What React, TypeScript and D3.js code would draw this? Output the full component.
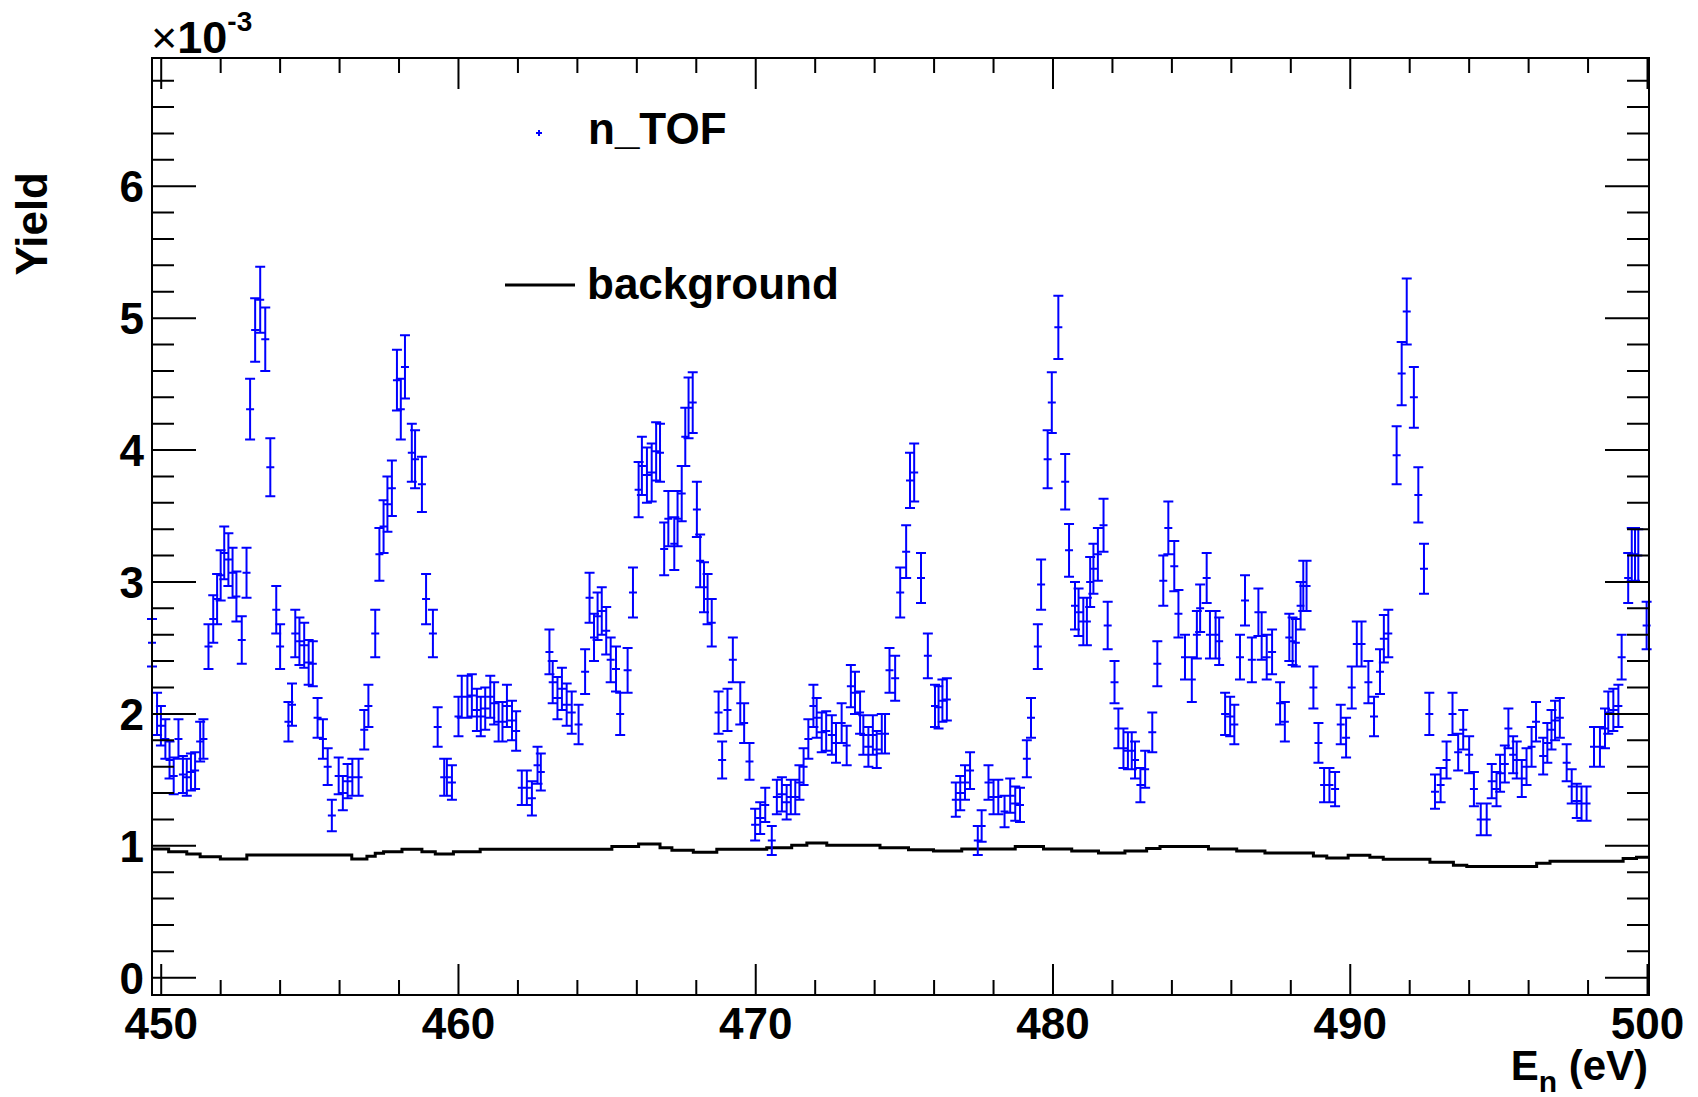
import React from "react";
import * as d3 from "d3";

const svgWidth = 1698;
const svgHeight = 1097;
const frame = { left: 152, right: 1649, top: 58, bottom: 995 };
const font = "'Liberation Sans', Arial, Helvetica, sans-serif";
const capHalf = 5;
const markHalf = 4;

// axis ranges (yield in units of 1e-3)
const xDomain = [449.69, 500.05];
const yDomain = [-0.131, 6.972];
const xTickLabels = [450, 460, 470, 480, 490, 500];
const yTickLabels = [0, 1, 2, 3, 4, 5, 6];

// n_TOF capture yield
const nTofEnergy = [
  449.69, 449.86, 449.99, 450.14, 450.28, 450.42, 450.58, 450.73, 450.86, 451.0,
  451.14, 451.31, 451.42, 451.59, 451.75, 451.88, 452.0, 452.12, 452.26, 452.4,
  452.53, 452.71, 452.87, 452.99, 453.16, 453.33, 453.5, 453.67, 453.87, 454.0,
  454.28, 454.4, 454.51, 454.65, 454.81, 454.96, 455.1, 455.26, 455.44, 455.6,
  455.74, 455.97, 456.11, 456.27, 456.43, 456.64, 456.83, 456.97, 457.2, 457.34,
  457.48, 457.61, 457.76, 457.93, 458.06, 458.2, 458.43, 458.54, 458.77, 458.91,
  459.14, 459.3, 459.52, 459.61, 459.78, 460.0, 460.11, 460.3, 460.45, 460.62,
  460.75, 460.9, 461.07, 461.2, 461.35, 461.48, 461.63, 461.8, 461.94, 462.13,
  462.3, 462.47, 462.66, 462.77, 463.06, 463.17, 463.33, 463.48, 463.64, 463.81,
  464.04, 464.26, 464.41, 464.56, 464.68, 464.82, 464.97, 465.12, 465.3, 465.44,
  465.69, 465.87, 466.06, 466.17, 466.34, 466.5, 466.65, 466.78, 466.92, 467.06,
  467.26, 467.37, 467.51, 467.63, 467.74, 467.88, 468.02, 468.13, 468.26, 468.38,
  468.52, 468.75, 468.87, 469.05, 469.23, 469.48, 469.61, 469.79, 469.98, 470.15,
  470.32, 470.54, 470.71, 470.88, 471.04, 471.18, 471.33, 471.47, 471.61, 471.77,
  471.94, 472.05, 472.22, 472.37, 472.56, 472.7, 472.89, 473.06, 473.2, 473.34,
  473.51, 473.62, 473.79, 473.94, 474.07, 474.24, 474.35, 474.5, 474.69, 474.86,
  475.06, 475.19, 475.33, 475.56, 475.79, 476.03, 476.15, 476.28, 476.43, 476.73,
  476.88, 477.04, 477.21, 477.47, 477.6, 477.83, 478.0, 478.16, 478.37, 478.56,
  478.73, 478.89, 479.12, 479.26, 479.49, 479.6, 479.82, 479.96, 480.18, 480.41,
  480.54, 480.74, 480.86, 481.02, 481.14, 481.25, 481.36, 481.51, 481.7, 481.84,
  482.07, 482.2, 482.37, 482.52, 482.65, 482.76, 482.94, 483.1, 483.34, 483.51,
  483.71, 483.88, 484.08, 484.22, 484.44, 484.67, 484.84, 484.95, 485.17, 485.28,
  485.47, 485.59, 485.79, 485.96, 486.1, 486.29, 486.46, 486.69, 486.91, 487.02,
  487.19, 487.37, 487.64, 487.8, 487.95, 488.06, 488.17, 488.33, 488.42, 488.53,
  488.76, 488.93, 489.12, 489.3, 489.49, 489.68, 489.86, 490.05, 490.22, 490.38,
  490.61, 490.8, 491.0, 491.13, 491.28, 491.56, 491.73, 491.9, 492.14, 492.29,
  492.48, 492.66, 492.85, 493.04, 493.24, 493.44, 493.63, 493.8, 494.0, 494.16,
  494.39, 494.59, 494.76, 494.92, 495.04, 495.2, 495.32, 495.48, 495.6, 495.77,
  495.93, 496.1, 496.25, 496.49, 496.63, 496.77, 496.89, 497.05, 497.28, 497.45,
  497.62, 497.78, 497.95, 498.2, 498.4, 498.57, 498.68, 498.85, 499.02, 499.13,
  499.35, 499.47, 499.58, 499.69, 499.97,
];
const nTofYield = [
  2.54, 2.0, 1.91, 1.81, 1.65, 1.53, 1.81, 1.54, 1.52, 1.56,
  1.57, 1.79, 1.81, 2.51, 2.72, 2.87, 3.05, 3.22, 3.17, 3.07,
  2.89, 2.56, 3.07, 4.31, 4.91, 5.14, 4.84, 3.87, 2.79, 2.51,
  1.94, 2.07, 2.61, 2.55, 2.52, 2.39, 2.38, 1.97, 1.81, 1.6,
  1.23, 1.53, 1.4, 1.49, 1.52, 1.52, 1.88, 2.06, 2.61, 3.21,
  3.42, 3.59, 3.71, 4.53, 4.31, 4.63, 3.98, 3.93, 3.74, 2.87,
  2.61, 1.9, 1.52, 1.52, 1.48, 1.98, 2.13, 2.13, 2.14, 2.03,
  1.98, 2.04, 2.13, 2.08, 1.94, 1.94, 2.06, 1.95, 1.87, 1.44,
  1.44, 1.36, 1.61, 1.56, 2.47, 2.24, 2.12, 2.19, 2.07, 2.01,
  1.92, 2.32, 2.88, 2.58, 2.74, 2.78, 2.63, 2.41, 2.34, 2.0,
  2.33, 2.92, 3.7, 3.88, 3.81, 3.83, 3.99, 3.98, 3.25, 3.48,
  3.29, 3.48, 3.67, 4.1, 4.32, 4.36, 3.55, 3.16, 2.96, 2.87,
  2.69, 2.01, 1.65, 2.03, 2.41, 2.08, 1.93, 1.64, 1.16, 1.21,
  1.31, 1.04, 1.37, 1.39, 1.33, 1.37, 1.37, 1.48, 1.6, 1.81,
  2.06, 1.97, 1.86, 1.87, 1.84, 1.78, 1.93, 1.76, 2.21, 2.16,
  2.01, 1.84, 1.75, 1.84, 1.73, 1.85, 1.85, 2.33, 2.27, 2.92,
  3.23, 3.77, 3.83, 3.03, 2.44, 2.06, 2.05, 2.1, 2.11, 1.35,
  1.4, 1.48, 1.57, 1.04, 1.15, 1.48, 1.37, 1.37, 1.26, 1.38,
  1.32, 1.31, 1.66, 1.97, 2.51, 2.98, 3.93, 4.36, 4.93, 3.76,
  3.24, 2.82, 2.77, 2.7, 2.7, 3.0, 3.1, 3.21, 3.43, 2.67,
  2.24, 1.89, 1.74, 1.72, 1.72, 1.65, 1.46, 1.58, 1.86, 2.38,
  3.01, 3.41, 3.12, 2.76, 2.43, 2.26, 2.6, 2.8, 3.03, 2.6,
  2.6, 2.55, 2.0, 1.98, 1.92, 2.43, 2.86, 2.41, 2.77, 2.59,
  2.43, 2.47, 2.08, 1.94, 2.58, 2.55, 2.54, 2.82, 2.97, 2.97,
  2.2, 1.78, 1.46, 1.46, 1.43, 1.92, 1.82, 2.2, 2.53, 2.53,
  2.24, 1.98, 2.32, 2.57, 2.61, 3.96, 4.58, 5.05, 4.4, 3.66,
  3.1, 2.0, 1.41, 1.46, 1.65, 2.0, 1.71, 1.88, 1.69, 1.43,
  1.2, 1.2, 1.49, 1.43, 1.55, 1.62, 1.89, 1.69, 1.65, 1.51,
  1.6, 1.75, 1.94, 1.68, 1.78, 1.88, 1.95, 1.97, 1.63, 1.45,
  1.34, 1.32, 1.32, 1.75, 1.75, 1.89, 2.01, 2.03, 2.06, 2.43,
  3.03, 3.21, 3.21, 3.2, 2.67,
];
const nTofError = [
  0.18, 0.16, 0.15, 0.15, 0.14, 0.14, 0.15, 0.14, 0.14, 0.14,
  0.14, 0.15, 0.15, 0.17, 0.18, 0.19, 0.19, 0.2, 0.2, 0.19,
  0.19, 0.18, 0.19, 0.23, 0.24, 0.25, 0.24, 0.22, 0.18, 0.17,
  0.15, 0.16, 0.18, 0.18, 0.17, 0.17, 0.17, 0.15, 0.15, 0.14,
  0.12, 0.14, 0.13, 0.13, 0.14, 0.14, 0.15, 0.16, 0.18, 0.2,
  0.2, 0.21, 0.21, 0.23, 0.23, 0.24, 0.22, 0.22, 0.21, 0.19,
  0.18, 0.15, 0.14, 0.14, 0.13, 0.15, 0.16, 0.16, 0.16, 0.16,
  0.15, 0.16, 0.16, 0.16, 0.15, 0.15, 0.16, 0.15, 0.15, 0.13,
  0.13, 0.13, 0.14, 0.14, 0.17, 0.16, 0.16, 0.16, 0.16, 0.16,
  0.15, 0.17, 0.19, 0.18, 0.18, 0.18, 0.18, 0.17, 0.17, 0.16,
  0.17, 0.19, 0.21, 0.22, 0.21, 0.22, 0.22, 0.22, 0.2, 0.21,
  0.2, 0.21, 0.21, 0.22, 0.23, 0.23, 0.21, 0.2, 0.19, 0.19,
  0.18, 0.16, 0.14, 0.16, 0.17, 0.16, 0.15, 0.14, 0.12, 0.12,
  0.13, 0.11, 0.13, 0.13, 0.13, 0.13, 0.13, 0.13, 0.14, 0.15,
  0.16, 0.15, 0.15, 0.15, 0.15, 0.15, 0.15, 0.15, 0.16, 0.16,
  0.16, 0.15, 0.15, 0.15, 0.14, 0.15, 0.15, 0.17, 0.17, 0.19,
  0.2, 0.21, 0.22, 0.19, 0.17, 0.16, 0.16, 0.16, 0.16, 0.13,
  0.13, 0.13, 0.14, 0.11, 0.12, 0.13, 0.13, 0.13, 0.12, 0.13,
  0.13, 0.13, 0.14, 0.15, 0.17, 0.19, 0.22, 0.23, 0.24, 0.21,
  0.2, 0.18, 0.18, 0.18, 0.18, 0.19, 0.19, 0.2, 0.2, 0.18,
  0.16, 0.15, 0.15, 0.14, 0.14, 0.14, 0.13, 0.14, 0.15, 0.17,
  0.19, 0.2, 0.19, 0.18, 0.17, 0.17, 0.18, 0.18, 0.19, 0.18,
  0.18, 0.18, 0.16, 0.15, 0.15, 0.17, 0.19, 0.17, 0.18, 0.18,
  0.17, 0.17, 0.16, 0.15, 0.18, 0.18, 0.18, 0.18, 0.19, 0.19,
  0.16, 0.15, 0.13, 0.13, 0.13, 0.15, 0.15, 0.16, 0.17, 0.17,
  0.16, 0.15, 0.17, 0.18, 0.18, 0.22, 0.24, 0.25, 0.23, 0.21,
  0.19, 0.16, 0.13, 0.13, 0.14, 0.16, 0.14, 0.15, 0.14, 0.13,
  0.12, 0.12, 0.13, 0.13, 0.14, 0.14, 0.15, 0.14, 0.14, 0.14,
  0.14, 0.15, 0.15, 0.14, 0.15, 0.15, 0.15, 0.15, 0.14, 0.13,
  0.13, 0.13, 0.13, 0.15, 0.15, 0.15, 0.16, 0.16, 0.16, 0.17,
  0.19, 0.2, 0.2, 0.2, 0.18,
];

// background: step edges (eV) and level of each step
const bgEdges = [
  449.7, 450.25, 450.86, 451.31, 451.99, 452.88, 456.41, 456.92, 457.2, 457.48,
  458.1, 458.77, 459.22, 459.83, 460.73, 465.16, 466.06, 466.78, 467.18, 467.9,
  468.69, 470.37, 471.21, 471.72, 472.39, 474.18, 475.14, 475.98, 476.93, 478.73,
  479.68, 480.63, 481.53, 482.42, 483.15, 483.6, 485.23, 486.18, 487.13, 488.76,
  489.21, 489.93, 490.66, 491.11, 492.68, 493.47, 493.92, 496.27, 496.72, 499.18,
  499.63, 500.05,
];
const bgYield = [
  0.975, 0.955, 0.937, 0.917, 0.9, 0.93, 0.9, 0.92, 0.943, 0.955,
  0.973, 0.955, 0.937, 0.955, 0.973, 0.995, 1.014, 0.985, 0.967, 0.951,
  0.973, 0.985, 1.005, 1.022, 1.005, 0.985, 0.97, 0.96, 0.975, 0.995,
  0.975, 0.96, 0.945, 0.96, 0.98, 0.995, 0.975, 0.96, 0.945, 0.923,
  0.907, 0.929, 0.913, 0.898, 0.876, 0.852, 0.843, 0.867, 0.882, 0.904,
  0.913,
];

function App() {
  const xScale = d3.scaleLinear().domain(xDomain).range([frame.left, frame.right]);
  const yScale = d3.scaleLinear().domain(yDomain).range([frame.bottom, frame.top]);

  const xMinor = d3.range(0, 26).filter((i) => i % 5 !== 0).map((i) => 450 + 2 * i);
  const yMinor = d3.range(0, 35).filter((i) => i % 5 !== 0).map((i) => i * 0.2);

  // ticks on all four sides, ROOT style
  const ticks = d3.path();
  const xTick = (v: number, len: number) => {
    const px = xScale(v);
    ticks.moveTo(px, frame.bottom);
    ticks.lineTo(px, frame.bottom - len);
    ticks.moveTo(px, frame.top);
    ticks.lineTo(px, frame.top + len);
  };
  const yTick = (v: number, len: number) => {
    const py = yScale(v);
    ticks.moveTo(frame.left, py);
    ticks.lineTo(frame.left + len, py);
    ticks.moveTo(frame.right, py);
    ticks.lineTo(frame.right - len, py);
  };
  xTickLabels.forEach((v) => xTick(v, 31));
  xMinor.forEach((v) => xTick(v, 15));
  yTickLabels.forEach((v) => yTick(v, 44));
  yMinor.forEach((v) => yTick(v, 22));

  const bars = d3.path();
  nTofEnergy.forEach((e, i) => {
    const cx = xScale(e);
    const cy = yScale(nTofYield[i]);
    const top = yScale(nTofYield[i] + nTofError[i]);
    const bot = yScale(nTofYield[i] - nTofError[i]);
    bars.moveTo(cx, top);
    bars.lineTo(cx, bot);
    bars.moveTo(cx - capHalf, top);
    bars.lineTo(cx + capHalf, top);
    bars.moveTo(cx - capHalf, bot);
    bars.lineTo(cx + capHalf, bot);
    bars.moveTo(cx - markHalf, cy);
    bars.lineTo(cx + markHalf, cy);
  });

  const bgPoints = bgEdges.map((e, i) => [e, bgYield[Math.min(i, bgYield.length - 1)]]);
  const bgLine = d3
    .line<number[]>()
    .x((d) => xScale(d[0]))
    .y((d) => yScale(d[1]))
    .curve(d3.curveStepAfter);

  return (
    <svg
      width={svgWidth}
      height={svgHeight}
      style={{ position: "absolute", left: 0, top: 0, background: "#fff" }}
      fontFamily={font}
      fontWeight="bold"
    >
      <rect x={0} y={0} width={svgWidth} height={svgHeight} fill="#fff" />
      <path d={bgLine(bgPoints) || ""} fill="none" stroke="#000" strokeWidth={3} />
      <path d={bars.toString()} fill="none" stroke="#0000ff" strokeWidth={2} />
      <rect
        x={frame.left}
        y={frame.top}
        width={frame.right - frame.left}
        height={frame.bottom - frame.top}
        fill="none"
        stroke="#000"
        strokeWidth={2}
      />
      <path d={ticks.toString()} fill="none" stroke="#000" strokeWidth={2} />

      {xTickLabels.map((v) => (
        <text key={`x${v}`} x={xScale(v)} y={1039} fontSize={44} textAnchor="middle">
          {v}
        </text>
      ))}
      {yTickLabels.map((v) => (
        <text key={`y${v}`} x={144} y={yScale(v) + 16} fontSize={44} textAnchor="end">
          {v}
        </text>
      ))}

      <text x={151} y={53} fontSize={45}>
        <tspan fontWeight="normal">×</tspan>
        <tspan>10</tspan>
        <tspan fontSize={28} dy={-22}>-3</tspan>
      </text>

      <text transform="translate(47,172) rotate(-90)" fontSize={44} textAnchor="end">
        Yield
      </text>

      <text x={1648} y={1080} fontSize={42} textAnchor="end">
        E<tspan fontSize={30} dy={12}>n</tspan>
        <tspan dy={-12}> (eV)</tspan>
      </text>

      {/* legend */}
      <path d="M536,133h6M539,130v6" stroke="#0000ff" strokeWidth={2} />
      <text x={588} y={144} fontSize={44}>
        n_TOF
      </text>
      <line x1={505} x2={575} y1={285} y2={285} stroke="#000" strokeWidth={3} />
      <text x={587} y={299} fontSize={44}>
        background
      </text>
    </svg>
  );
}

export default App;
